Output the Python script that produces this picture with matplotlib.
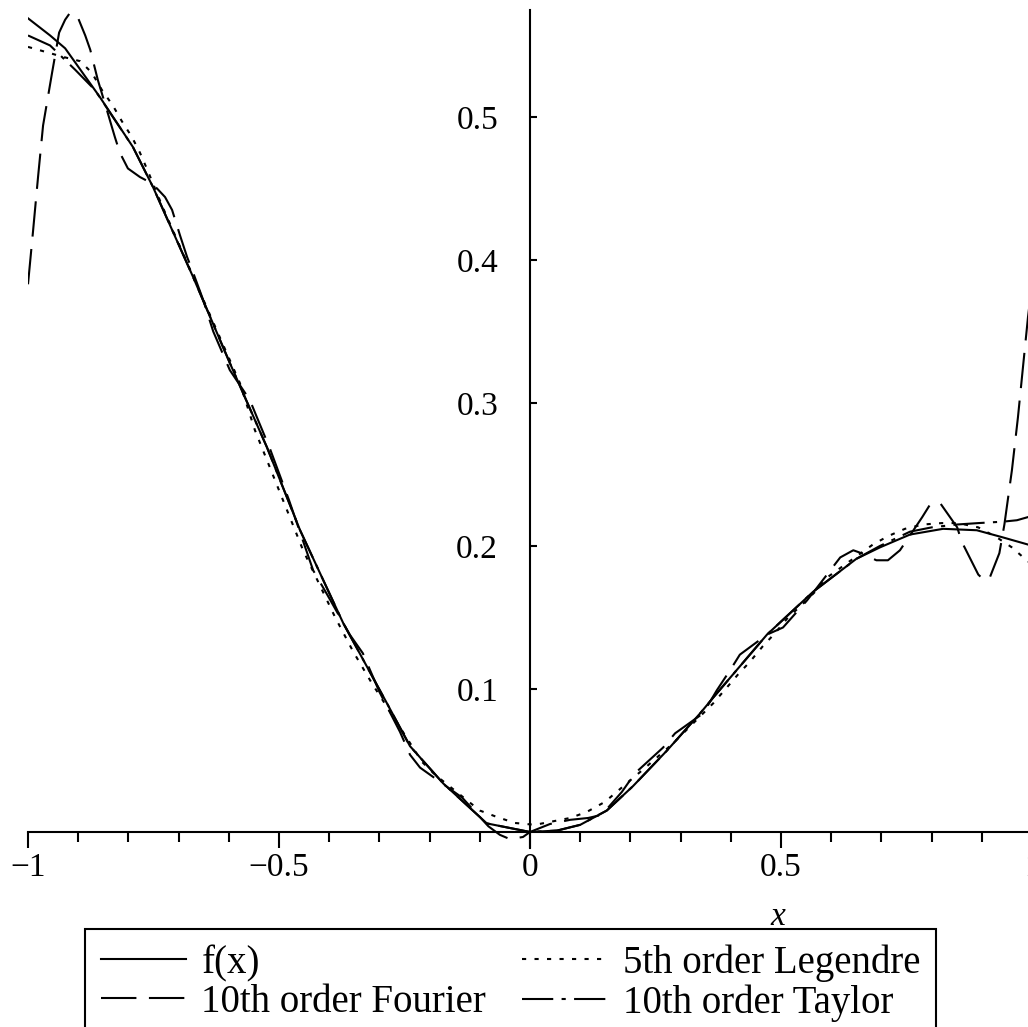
import matplotlib
matplotlib.use("Agg")
import matplotlib.pyplot as plt
from matplotlib.ticker import MultipleLocator

plt.rcParams['font.family'] = ['Liberation Serif', 'DejaVu Serif']

# values
fx_x = [-1.0, -0.956, -0.926, -0.857, -0.791, -0.751, -0.671, -0.598, -0.524, -0.458,
        -0.372, -0.285, -0.239, -0.173, -0.086, 0.0, 0.054, 0.1, 0.153, 0.205,
        0.273, 0.339, 0.365, 0.472, 0.564, 0.65, 0.697, 0.757, 0.823, 0.89,
        0.942, 0.992, 1.0]
fx_y = [0.569, 0.557, 0.548, 0.514, 0.479, 0.451, 0.388, 0.328, 0.269, 0.211,
        0.146, 0.090, 0.060, 0.034, 0.006, 0.0, 0.001, 0.005, 0.015, 0.032,
        0.057, 0.083, 0.094, 0.138, 0.168, 0.191, 0.199, 0.208, 0.212, 0.211,
        0.206, 0.201, 0.200]

fourier_x = [-1.0, -0.99, -0.98, -0.97, -0.952, -0.938, -0.926, -0.916, -0.9, -0.886,
             -0.876, -0.861, -0.843, -0.827, -0.817, -0.801, -0.777, -0.761, -0.743, -0.727,
             -0.713, -0.697, -0.683, -0.673, -0.651, -0.631, -0.598, -0.558, -0.544, -0.518,
             -0.48, -0.432, -0.404, -0.359, -0.333, -0.3, -0.259, -0.239, -0.219, -0.155,
             -0.135, -0.083, -0.06, -0.04, -0.014, 0.0, 0.04, 0.08, 0.116, 0.143,
             0.183, 0.209, 0.265, 0.289, 0.345, 0.372, 0.402, 0.418, 0.472, 0.504,
             0.552, 0.572, 0.618, 0.644, 0.66, 0.69, 0.713, 0.737, 0.781, 0.797,
             0.817, 0.851, 0.86, 0.893, 0.905, 0.916, 0.935, 0.945, 0.96, 0.972,
             0.982, 0.992, 1.0]
fourier_y = [0.383, 0.420, 0.458, 0.494, 0.531, 0.559, 0.568, 0.573, 0.569, 0.557,
             0.547, 0.526, 0.505, 0.486, 0.475, 0.464, 0.458, 0.455, 0.450, 0.444,
             0.435, 0.417, 0.402, 0.393, 0.372, 0.350, 0.323, 0.302, 0.290, 0.268,
             0.232, 0.183, 0.166, 0.138, 0.125, 0.098, 0.070, 0.054, 0.045, 0.029,
             0.024, 0.004, -0.002, -0.005, -0.0035, 0.0, 0.0056, 0.0085, 0.0098, 0.012,
             0.028, 0.041, 0.059, 0.069, 0.083, 0.099, 0.115, 0.124, 0.138, 0.143,
             0.162, 0.171, 0.192, 0.197, 0.195, 0.190, 0.190, 0.197, 0.220, 0.229,
             0.230, 0.213, 0.203, 0.180, 0.176, 0.178, 0.195, 0.215, 0.253, 0.290,
             0.325, 0.360, 0.383]

legendre_x = [-1.0, -0.93, -0.896, -0.873, -0.853, -0.831, -0.813, -0.793, -0.777, -0.761,
              -0.733, -0.578, -0.548, -0.452, -0.388, -0.352, -0.315, -0.215, -0.189, -0.1,
              -0.066, -0.03, 0.01, 0.08, 0.113, 0.149, 0.233, 0.259, 0.285, 0.365,
              0.392, 0.414, 0.438, 0.464, 0.488, 0.514, 0.542, 0.568, 0.592, 0.683,
              0.714, 0.747, 0.783, 0.82, 0.853, 0.893, 0.93, 0.96, 0.986, 1.0]
legendre_y = [0.549, 0.542, 0.539, 0.531, 0.519, 0.508, 0.497, 0.486, 0.475, 0.462,
              0.438, 0.314, 0.281, 0.197, 0.150, 0.126, 0.104, 0.049, 0.040, 0.015,
              0.0105, 0.0063, 0.005, 0.0098, 0.014, 0.021, 0.046, 0.054, 0.062, 0.090,
              0.101, 0.110, 0.119, 0.130, 0.139, 0.150, 0.159, 0.168, 0.178, 0.201,
              0.207, 0.212, 0.215, 0.216, 0.216, 0.213, 0.206, 0.199, 0.191, 0.187]

taylor_x = [-1.0, -0.956, -0.906, -0.867, -0.791, -0.751, -0.671, -0.598, -0.524, -0.458,
            -0.372, -0.285, -0.239, -0.173, -0.086, 0.0, 0.054, 0.1, 0.153, 0.205,
            0.273, 0.339, 0.365, 0.472, 0.564, 0.65, 0.697, 0.757, 0.8, 0.85,
            0.893, 0.942, 0.97, 0.99, 1.0]
taylor_y = [0.557, 0.550, 0.533, 0.519, 0.479, 0.451, 0.388, 0.328, 0.269, 0.211,
            0.146, 0.090, 0.060, 0.034, 0.006, 0.0, 0.001, 0.005, 0.015, 0.032,
            0.057, 0.083, 0.094, 0.138, 0.168, 0.191, 0.200, 0.210, 0.213, 0.215,
            0.216, 0.217, 0.218, 0.220, 0.221]

xticks = [-1, -0.5, 0, 0.5, 1]
xtick_labels = ['\u22121', '\u22120.5', '0', '0.5', '1']
yticks = [0.1, 0.2, 0.3, 0.4, 0.5]
ytick_labels = ['0.1', '0.2', '0.3', '0.4', '0.5']

W, H = 1028, 1027
fig = plt.figure(figsize=(W / 100, H / 100), dpi=100)
ax = fig.add_axes([28 / W, (H - 848) / H, 1004 / W, 838 / H])

lw = 1.5
l1, = ax.plot(fx_x, fx_y, color='black', lw=lw, label='f(x)')
l2, = ax.plot(fourier_x, fourier_y, color='black', lw=lw, dashes=(17, 6),
              label='10th order Fourier')
l3, = ax.plot(legendre_x, legendre_y, color='black', lw=lw, dashes=(2, 4),
              label='5th order Legendre')
l4, = ax.plot(taylor_x, taylor_y, color='black', lw=lw, dashes=(15, 4, 2, 4),
              label='10th order Taylor')

ax.set_xlim(-1, 1)
ax.set_ylim(-0.0112, 0.5748)

for s in ['top', 'right']:
    ax.spines[s].set_visible(False)
ax.spines['bottom'].set_position(('data', 0))
ax.spines['left'].set_position(('data', 0))
ax.spines['bottom'].set_linewidth(1.5)
ax.spines['left'].set_linewidth(1.5)

ax.set_xticks(xticks)
ax.set_xticklabels(xtick_labels)
ax.xaxis.set_minor_locator(MultipleLocator(0.1))
ax.set_yticks(yticks)
ax.set_yticklabels(ytick_labels)

ax.tick_params(axis='x', which='major', direction='out', length=11.5, width=1.5,
               labelsize=24, pad=3)
ax.tick_params(axis='x', which='minor', direction='out', length=7, width=1.5)
ax.tick_params(axis='y', which='major', direction='in', length=5, width=1.5,
               labelsize=24, pad=23)

fig.text(778 / W, (H - 917) / H, 'x', fontsize=24, fontstyle='italic',
         ha='center', va='center')

leg = fig.legend(handles=[l1, l2, l3, l4], ncol=2, loc='upper left',
                 bbox_to_anchor=(85 / W, (H - 929) / H), borderaxespad=0,
                 fontsize=28, frameon=True, fancybox=False, framealpha=1,
                 edgecolor='black', handlelength=2.2, handletextpad=0.39,
                 columnspacing=0.93, labelspacing=0.05, borderpad=0.4)
leg.get_frame().set_linewidth(1.5)

fig.savefig('out.png', dpi=100)
